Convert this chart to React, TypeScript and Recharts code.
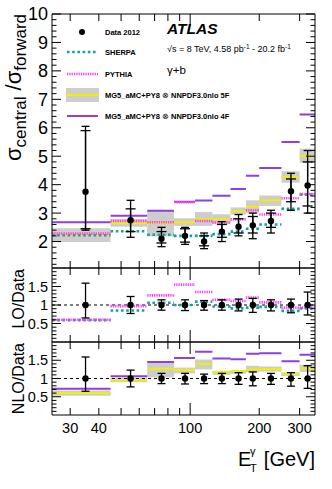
import React from 'react';
import { ComposedChart, Line, Area, Scatter, ErrorBar, XAxis, YAxis, ReferenceLine } from 'recharts';

const FONT = '"Liberation Sans", Arial, sans-serif';

// E_T^gamma bins [GeV]
const binEdges = [25, 45, 65, 85, 105, 125, 150, 175, 200, 250, 300, 350];
const binCentres = [35, 55, 75, 95, 115, 137.5, 162.5, 187.5, 225, 275, 325];

// top panel: sigma_central / sigma_forward
const data2012 = [3.75, 2.75, 2.1, 2.2, 2.0, 2.35, 2.52, 2.57, 2.72, 3.77, 3.97];
const dataTotLo = [2.4, 2.15, 1.82, 1.9, 1.75, 2.0, 2.2, 2.1, 2.3, 3.1, 3.0];
const dataTotHi = [6.05, 3.45, 2.5, 2.5, 2.3, 2.7, 2.95, 3.0, 3.1, 4.4, 5.2];
const dataStatLo = [2.45, 2.35, 1.95, 1.98, 1.85, 2.15, 2.3, 2.3, 2.5, 3.4, 3.25];
const dataStatHi = [5.9, 3.15, 2.35, 2.45, 2.2, 2.6, 2.8, 2.88, 3.0, 4.2, 4.8];
const sherpa = [2.22, 2.36, 2.24, 2.2, 2.2, 2.26, 2.35, 2.45, 2.6, 3.15, 3.65];
const pythia = [2.28, 2.72, 2.68, 3.38, 2.72, 2.67, 2.78, 3.1, 2.95, 3.52, 3.67];
const mg5nlo5F = [2.24, 2.65, 2.65, 2.68, 2.78, 2.78, 3.06, 3.22, 3.45, 4.28, 5.0];
const mg5nlo5FLo = [1.98, 2.52, 2.18, 2.55, 2.55, 2.62, 2.95, 3.0, 3.25, 4.07, 4.77];
const mg5nlo5FHi = [2.47, 2.79, 3.08, 2.82, 3.04, 2.96, 3.2, 3.45, 3.62, 4.47, 5.27];
const mg5nlo4F = [2.68, 2.91, 3.08, 3.4, 3.44, 3.61, 3.85, 4.31, 4.59, 5.5, 6.47];

// LO / Data
const loPythia = [0.6, 0.97, 1.26, 1.55, 1.35, 1.14, 1.11, 1.2, 1.07, 0.93, 0.93];
const loSherpa = [0.59, 0.85, 1.06, 1.0, 1.09, 0.96, 0.91, 0.93, 0.95, 0.84, 0.91];

// NLO / Data
const nlo5F = [0.6, 0.95, 1.27, 1.23, 1.4, 1.18, 1.2, 1.25, 1.26, 1.13, 1.28];
const nlo5FLo = [0.53, 0.9, 1.03, 1.14, 1.25, 1.1, 1.13, 1.17, 1.19, 1.07, 1.18];
const nlo5FHi = [0.67, 1.02, 1.44, 1.3, 1.52, 1.21, 1.23, 1.35, 1.33, 1.17, 1.38];
const nlo4F = [0.72, 1.06, 1.45, 1.56, 1.73, 1.55, 1.53, 1.68, 1.69, 1.47, 1.65];

// data uncertainty in the ratio panels (data at 1)
const ratioData = [1, 1, 1, 1, 1, 1, 1, 1, 1, 1, 1];
const ratioErrLo = [0.65, 0.77, 0.86, 0.85, 0.86, 0.86, 0.84, 0.8, 0.84, 0.79, 0.73];
const ratioErrHi = [1.59, 1.23, 1.14, 1.14, 1.12, 1.14, 1.16, 1.18, 1.14, 1.16, 1.35];

// tick labels
const xTickLabels = [30, 40, 100, 200, 300];
const xMinorTicks = [50, 60, 70, 80, 90];
const mainYLabels = [2, 3, 4, 5, 6, 7, 8, 9, 10];
const ratioYLabels = [0.5, 1, 1.5];

const C_SHERPA = '#17a0a0';
const C_PYTHIA = '#ff3cff';
const C_4F = '#8e3fe0';
const C_5F = '#f0f000';
const C_BAND = '#cdcdcd';

const xTicks = [...xTickLabels, ...xMinorTicks].sort((a, b) => a - b);
const mainYTicks: number[] = [];
for (let v = 12; v <= 100; v += 2) mainYTicks.push(v / 10);
const mainMajor = [1, 2, 3, 4, 5, 6, 7, 8, 9, 10];
const ratioYTicks: number[] = [];
for (let v = 1; v <= 19; v++) ratioYTicks.push(v / 10);

const isIn = (list: number[], v: number) => list.some((m) => Math.abs(m - v) < 1e-6);

function stepData(vals: number[]) {
  const pts: { x: number; y: number | null }[] = [];
  vals.forEach((v, i) => {
    pts.push({ x: binEdges[i], y: v });
    pts.push({ x: binEdges[i + 1], y: v });
    pts.push({ x: binEdges[i + 1], y: null });
  });
  return pts;
}

function pointData(vals: number[], lo: number[], hi: number[], sLo?: number[], sHi?: number[]) {
  return binCentres.map((x, i) => ({
    x,
    y: vals[i],
    err: [vals[i] - lo[i], hi[i] - vals[i]],
    stat: sLo && sHi ? [vals[i] - sLo[i], sHi[i] - vals[i]] : [0, 0],
  }));
}

const yTick = (side: 'left' | 'right', labels: number[], majors: number[], fontSize: number) => (p: any) => {
  const v = p.payload.value;
  const major = isIn(majors, v);
  const len = major ? 9 : 4.5;
  const dir = side === 'left' ? 1 : -1;
  return (
    <g>
      <line x1={p.x} x2={p.x + dir * len} y1={p.y} y2={p.y} stroke="#000" strokeWidth={1} />
      {side === 'left' && isIn(labels, v) && (
        <text x={p.x - 4} y={p.y} dy="0.36em" textAnchor="end" fontSize={fontSize} fontFamily={FONT} fill="#000">
          {v}
        </text>
      )}
    </g>
  );
};

const xTick = (side: 'top' | 'bottom', showLabels: boolean) => (p: any) => {
  const v = p.payload.value;
  const len = v === 100 ? 12 : 7;
  const dir = side === 'bottom' ? -1 : 1;
  return (
    <g>
      <line x1={p.x} x2={p.x} y1={p.y} y2={p.y + dir * len} stroke="#000" strokeWidth={1} />
      {showLabels && isIn(xTickLabels, v) && (
        <text x={p.x} y={p.y + 18} textAnchor="middle" fontSize={14.5} fontFamily={FONT} fill="#000">
          {v}
        </text>
      )}
    </g>
  );
};

const stepLine = (key: string, vals: number[], color: string, width: number, dash?: string) => (
  <Line
    key={key}
    data={stepData(vals)}
    dataKey="y"
    type="linear"
    stroke={color}
    strokeWidth={width}
    strokeDasharray={dash}
    dot={false}
    activeDot={false}
    connectNulls={false}
    isAnimationActive={false}
  />
);

const bands = (prefix: string, lo: number[], hi: number[]) =>
  lo.map((l, i) => (
    <Area
      key={prefix + i}
      data={[
        { x: binEdges[i], r: [l, hi[i]] },
        { x: binEdges[i + 1], r: [l, hi[i]] },
      ]}
      dataKey="r"
      type="linear"
      stroke="none"
      fill={C_BAND}
      fillOpacity={1}
      isAnimationActive={false}
    />
  ));

const dot = (p: any) => <circle cx={p.cx} cy={p.cy} r={3.2} fill="#000" />;

const dataPoints = (rows: any[], withStat: boolean) => (
  <Scatter data={rows} dataKey="y" shape={dot} isAnimationActive={false}>
    <ErrorBar dataKey="err" direction="y" width={4} stroke="#000" strokeWidth={1.3} />
    {withStat && <ErrorBar dataKey="stat" direction="y" width={5} stroke="#000" strokeWidth={1.3} />}
  </Scatter>
);

function Axes(yDomain: number[], yT: number[], yLabels: number[], majors: number[], yFont: number, bottomLabels: boolean) {
  return [
    <XAxis
      key="xb"
      dataKey="x"
      type="number"
      scale="log"
      domain={[25, 350]}
      allowDataOverflow
      ticks={xTicks}
      interval={0}
      height={1}
      tickSize={0}
      tickMargin={0}
      tickLine={false}
      axisLine={{ stroke: '#000', strokeWidth: 1 }}
      tick={xTick('bottom', bottomLabels)}
    />,
    <XAxis
      key="xt"
      xAxisId="t"
      orientation="top"
      dataKey="x"
      type="number"
      scale="log"
      domain={[25, 350]}
      allowDataOverflow
      ticks={xTicks}
      interval={0}
      height={1}
      tickSize={0}
      tickMargin={0}
      tickLine={false}
      axisLine={{ stroke: '#000', strokeWidth: 1 }}
      tick={xTick('top', false)}
    />,
    <YAxis
      key="yl"
      type="number"
      domain={yDomain}
      allowDataOverflow
      ticks={yT}
      interval={0}
      width={52}
      tickSize={0}
      tickMargin={0}
      tickLine={false}
      axisLine={{ stroke: '#000', strokeWidth: 1 }}
      tick={yTick('left', yLabels, majors, yFont)}
    />,
    <YAxis
      key="yr"
      yAxisId="r"
      orientation="right"
      type="number"
      domain={yDomain}
      allowDataOverflow
      ticks={yT}
      interval={0}
      width={1}
      tickSize={0}
      tickMargin={0}
      tickLine={false}
      axisLine={{ stroke: '#000', strokeWidth: 1 }}
      tick={yTick('right', yLabels, majors, yFont)}
    />,
  ];
}

function MainPanel() {
  return (
    <ComposedChart width={332} height={269} margin={{ top: 13, right: 16, bottom: 0, left: 0 }}>
      {Axes([1.07, 10], mainYTicks, mainYLabels, mainMajor, 18, false)}
      {bands('mb', mg5nlo5FLo, mg5nlo5FHi)}
      {stepLine('m5', mg5nlo5F, C_5F, 2)}
      {stepLine('m4', mg5nlo4F, C_4F, 2)}
      {stepLine('ms', sherpa, C_SHERPA, 2.6, '2.6 2.6')}
      {stepLine('mp', pythia, C_PYTHIA, 2.6, '1.3 1')}
      {dataPoints(pointData(data2012, dataTotLo, dataTotHi, dataStatLo, dataStatHi), true)}
    </ComposedChart>
  );
}

function LoPanel() {
  return (
    <ComposedChart width={332} height={76} margin={{ top: 0, right: 16, bottom: 0, left: 0 }}>
      {Axes([0, 2], ratioYTicks, ratioYLabels, ratioYLabels, 14.5, false)}
      <ReferenceLine y={1} stroke="#000" strokeWidth={1.2} strokeDasharray="3 3" />
      {stepLine('ls', loSherpa, C_SHERPA, 2.6, '2.6 2.6')}
      {stepLine('lp', loPythia, C_PYTHIA, 2.6, '1.3 1')}
      {dataPoints(pointData(ratioData, ratioErrLo, ratioErrHi), false)}
    </ComposedChart>
  );
}

function NloPanel() {
  return (
    <ComposedChart width={332} height={147} margin={{ top: 0, right: 16, bottom: 72, left: 0 }}>
      {Axes([0, 2], ratioYTicks, ratioYLabels, ratioYLabels, 14.5, true)}
      {bands('nb', nlo5FLo, nlo5FHi)}
      <ReferenceLine y={1} stroke="#000" strokeWidth={1.2} strokeDasharray="3 3" />
      {stepLine('n5', nlo5F, C_5F, 2)}
      {stepLine('n4', nlo4F, C_4F, 2)}
      {dataPoints(pointData(ratioData, ratioErrLo, ratioErrHi), false)}
    </ComposedChart>
  );
}

function Overlay() {
  const t = { fontFamily: FONT, fill: '#000' };
  const lg = { ...t, fontSize: 7.5, fontWeight: 700 };
  return (
    <svg width={332} height={489} style={{ position: 'absolute', left: 0, top: 0, pointerEvents: 'none' }}>
      {/* legend */}
      <circle cx={82} cy={32} r={3} fill="#000" />
      <text x={105} y={35} {...lg}>Data 2012</text>
      <line x1={67} x2={98} y1={52} y2={52} stroke={C_SHERPA} strokeWidth={2.6} strokeDasharray="2.6 2.6" />
      <text x={105} y={55} {...lg}>SHERPA</text>
      <line x1={67} x2={98} y1={74} y2={74} stroke={C_PYTHIA} strokeWidth={2.6} strokeDasharray="1.3 1" />
      <text x={105} y={77} {...lg}>PYTHIA</text>
      <rect x={66} y={88} width={33} height={14} fill={C_BAND} />
      <line x1={66} x2={99} y1={95} y2={95} stroke={C_5F} strokeWidth={2} />
      <text x={105} y={98} {...lg}>MG5_aMC+PY8 <tspan fontWeight={400}>⊗</tspan> NNPDF3.0nlo 5F</text>
      <line x1={67} x2={98} y1={116} y2={116} stroke={C_4F} strokeWidth={2} />
      <text x={105} y={119} {...lg}>MG5_aMC+PY8 <tspan fontWeight={400}>⊗</tspan> NNPDF3.0nlo 4F</text>

      {/* labels */}
      <text x={167} y={34} {...t} fontSize={15.5} fontWeight={700} fontStyle="italic">ATLAS</text>
      <text x={167} y={52} {...t} fontSize={9}>
        √s = 8 TeV, 4.58 pb<tspan dy={-3.5} fontSize={6.5}>-1</tspan>
        <tspan dy={3.5}> - 20.2 fb</tspan>
        <tspan dy={-3.5} fontSize={6.5}>-1</tspan>
      </text>
      <text x={167} y={74} {...t} fontSize={11.5}>γ+b</text>

      {/* axis titles */}
      <text transform="rotate(-90)" x={-14} y={21} textAnchor="end" {...t} fontSize={22}>
        σ<tspan dy={5} fontSize={17}>central</tspan>
        <tspan dy={-5}> /σ</tspan>
        <tspan dy={5} fontSize={17}>forward</tspan>
      </text>
      <text transform="rotate(-90)" x={-269} y={24} textAnchor="end" {...t} fontSize={16}>LO/Data</text>
      <text transform="rotate(-90)" x={-343} y={24} textAnchor="end" {...t} fontSize={16}>NLO/Data</text>
      <text x={238} y={466} {...t} fontSize={20}>E</text>
      <text x={250} y={472} {...t} fontSize={11}>T</text>
      <text x={250} y={455} {...t} fontSize={11}>γ</text>
      <text x={315} y={466} textAnchor="end" {...t} fontSize={20}>[GeV]</text>
    </svg>
  );
}

export default function App() {
  return (
    <div style={{ position: 'absolute', left: 0, top: 0, width: 332, height: 489, background: '#fff' }}>
      <div style={{ position: 'absolute', left: 0, top: 0 }}>
        <MainPanel />
      </div>
      <div style={{ position: 'absolute', left: 0, top: 267 }}>
        <LoPanel />
      </div>
      <div style={{ position: 'absolute', left: 0, top: 341 }}>
        <NloPanel />
      </div>
      <Overlay />
    </div>
  );
}
